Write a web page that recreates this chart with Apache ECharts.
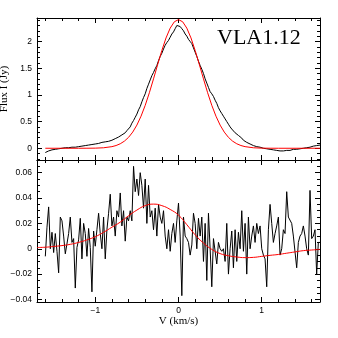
<!DOCTYPE html>
<html>
<head>
<meta charset="utf-8">
<script src="https://cdn.jsdelivr.net/npm/echarts@6/dist/echarts.min.js"></script>
<style>
  html, body { margin: 0; padding: 0; background: #fff; }
  #chart { width: 338px; height: 338px; }
</style>
</head>
<body>
<div id="chart"></div>
<script>
// channel velocities (km/s) of the observed spectra
const velocity = [
  -1.60,-1.58,-1.56,-1.54,-1.52,-1.50,-1.48,-1.46,-1.44,-1.42,
  -1.40,-1.38,-1.36,-1.34,-1.32,-1.30,-1.28,-1.26,-1.24,-1.22,
  -1.20,-1.18,-1.16,-1.14,-1.12,-1.10,-1.08,-1.06,-1.04,-1.02,
  -1.00,-0.98,-0.96,-0.94,-0.92,-0.90,-0.88,-0.86,-0.84,-0.82,
  -0.80,-0.78,-0.76,-0.74,-0.72,-0.70,-0.68,-0.66,-0.64,-0.62,
  -0.60,-0.58,-0.56,-0.54,-0.52,-0.50,-0.48,-0.46,-0.44,-0.42,
  -0.40,-0.38,-0.36,-0.34,-0.32,-0.30,-0.28,-0.26,-0.24,-0.22,
  -0.20,-0.18,-0.16,-0.14,-0.12,-0.10,-0.08,-0.06,-0.04,-0.02,
  0.00,0.02,0.04,0.06,0.08,0.10,0.12,0.14,0.16,0.18,
  0.20,0.22,0.24,0.26,0.28,0.30,0.32,0.34,0.36,0.38,
  0.40,0.42,0.44,0.46,0.48,0.50,0.52,0.54,0.56,0.58,
  0.60,0.62,0.64,0.66,0.68,0.70,0.72,0.74,0.76,0.78,
  0.80,0.82,0.84,0.86,0.88,0.90,0.92,0.94,0.96,0.98,
  1.00,1.02,1.04,1.06,1.08,1.10,1.12,1.14,1.16,1.18,
  1.20,1.22,1.24,1.26,1.28,1.30,1.32,1.34,1.36,1.38,
  1.40,1.42,1.44,1.46,1.48,1.50,1.52,1.54,1.56,1.58,
  1.60,1.62,1.64,1.66,1.68,1.70
];

// Stokes I (Jy)
const fluxI = [
  -0.08,-0.07,-0.05,-0.06,-0.03,-0.04,-0.02,-0.03,-0.01,-0.02,
  0.00,-0.01,0.01,0.00,0.01,0.00,0.02,0.01,0.02,0.02,
  0.03,0.02,0.04,0.03,0.05,0.04,0.06,0.05,0.07,0.06,
  0.08,0.07,0.09,0.09,0.11,0.10,0.12,0.13,0.13,0.15,
  0.15,0.17,0.18,0.18,0.21,0.22,0.25,0.27,0.29,0.33,
  0.36,0.40,0.47,0.52,0.58,0.64,0.72,0.78,0.87,0.95,
  1.02,1.12,1.20,1.28,1.36,1.42,1.49,1.55,1.64,1.72,
  1.78,1.86,1.93,1.98,2.02,2.08,2.14,2.18,2.24,2.30,
  2.31,2.28,2.24,2.20,2.14,2.10,2.04,2.00,1.96,1.88,
  1.80,1.72,1.63,1.55,1.48,1.40,1.30,1.22,1.14,1.06,
  1.02,0.97,0.90,0.84,0.76,0.70,0.65,0.60,0.55,0.50,
  0.45,0.40,0.36,0.33,0.29,0.26,0.24,0.21,0.19,0.15,
  0.14,0.11,0.10,0.08,0.07,0.05,0.05,0.03,0.04,0.02,
  0.02,0.00,0.01,-0.01,0.00,-0.02,-0.01,-0.03,-0.02,-0.04,
  -0.03,-0.05,-0.04,-0.05,-0.03,-0.04,-0.02,-0.04,-0.03,-0.02,
  -0.04,-0.02,-0.03,-0.01,-0.02,0.00,-0.01,0.01,0.00,0.02,
  0.03,0.04,0.06,0.05,0.07,0.06
];

// Stokes V (Jy)
const fluxV = [
  -0.006,0.017,0.033,0.000,0.013,-0.003,0.012,-0.002,-0.019,0.025,
  0.022,0.010,-0.004,-0.004,0.012,0.025,0.005,0.008,-0.031,0.001,
  0.007,0.024,-0.008,0.020,0.012,-0.006,0.016,0.001,-0.034,0.014,
  0.002,0.015,0.028,0.012,0.000,0.025,-0.008,0.015,0.028,0.043,
  0.018,0.025,0.010,0.030,0.025,0.044,0.018,0.030,0.006,0.025,
  0.022,0.030,0.022,0.065,0.045,0.055,0.042,0.060,0.050,0.032,
  0.055,0.020,0.050,0.025,0.030,0.015,0.032,0.010,0.035,0.025,
  0.020,0.030,0.010,0.000,0.015,-0.002,0.012,0.020,0.005,0.022,
  0.036,0.010,-0.037,0.025,0.010,0.008,0.005,-0.005,0.003,0.028,
  0.020,0.000,0.024,0.010,0.025,-0.010,0.020,-0.025,0.028,0.000,
  -0.030,0.008,0.007,-0.012,0.005,0.000,-0.002,0.000,-0.010,0.020,
  -0.020,0.000,0.014,-0.015,0.015,-0.010,0.013,0.000,0.030,-0.002,
  0.020,-0.020,0.025,0.000,0.010,0.018,0.005,0.020,0.012,0.018,
  0.000,-0.005,-0.008,-0.030,0.015,0.035,0.020,0.005,0.012,0.018,
  0.025,-0.005,0.000,0.015,0.012,0.045,0.025,0.025,0.020,0.010,
  0.010,-0.015,0.005,0.010,0.012,0.018,0.010,0.000,-0.005,0.046,
  0.008,0.010,0.015,-0.020,0.005,0.005
];

// model fits (red)
const fitIVel = [
  -1.6,-1.4,-1.2,-1.1,-1.0,-0.9,-0.8,-0.75,-0.7,-0.65,-0.6,-0.55,-0.5,-0.45,-0.4,
  -0.35,-0.3,-0.25,-0.2,-0.15,-0.1,-0.05,0,0.05,0.1,0.15,0.2,0.25,0.3,0.35,
  0.4,0.45,0.5,0.55,0.6,0.65,0.7,0.75,0.8,0.9,1.0,1.1,1.2,1.4,1.7
];
const fitI = [
  0,0,0,0.0005,0.002,0.009,0.030,0.051,0.084,0.133,0.204,0.303,0.434,0.601,0.804,
  1.040,1.300,1.570,1.832,2.066,2.250,2.369,2.410,2.369,2.250,2.066,1.832,1.570,1.300,1.040,
  0.804,0.601,0.434,0.303,0.204,0.133,0.084,0.051,0.030,0.009,0.002,0.0005,0,0,0
];
const fitVVel = [
  -1.7,-1.6,-1.5,-1.4,-1.3,-1.2,-1.1,-1.0,-0.9,-0.8,-0.7,-0.6,-0.5,-0.4,-0.3,-0.2,-0.1,
  0.0,0.1,0.2,0.3,0.4,0.5,0.6,0.7,0.8,0.9,1.0,1.1,1.2,1.3,1.4,1.5,1.6,1.7
];
const fitV = [
  0.0010,0.0012,0.0018,0.0025,0.0035,0.0050,0.0070,0.0095,0.0130,0.0170,0.0210,0.0260,0.0305,0.0340,0.0352,0.0340,0.0310,
  0.0265,0.0190,0.0110,0.0045,-0.0005,-0.0038,-0.0055,-0.0065,-0.0070,-0.0068,-0.0060,-0.0052,-0.0045,-0.0035,-0.0025,-0.0015,-0.0010,-0.0005
];

// ticks
const velMajor = [-1, 0, 1];
const velMinor = [-1.6,-1.4,-1.2,-0.8,-0.6,-0.4,-0.2,0.2,0.4,0.6,0.8,1.2,1.4,1.6];
const iMajor = [0, 0.5, 1, 1.5, 2];
const iMinor = [-0.2,-0.1,0.1,0.2,0.3,0.4,0.6,0.7,0.8,0.9,1.1,1.2,1.3,1.4,1.6,1.7,1.8,1.9,2.1,2.2,2.3,2.4];
const vMajor = [-0.04, -0.02, 0, 0.02, 0.04, 0.06];
const vMinor = [-0.035,-0.03,-0.025,-0.015,-0.01,-0.005,0.005,0.01,0.015,0.025,0.03,0.035,0.045,0.05,0.055,0.065];

const pairs = (xs, ys) => xs.map((x, i) => [x, ys[i]]);
const fmt = (v) => String(v).replace('-', '\u2212');

const labelFont = { fontFamily: 'Liberation Sans', fontSize: 8.5, color: '#000' };
const nameFont = { fontFamily: 'Liberation Serif', fontSize: 11, color: '#000' };

function axis(kind, grid, pos, min, max, ticks, len, opts) {
  const a = {
    type: 'value',
    gridIndex: grid,
    position: pos,
    min: min,
    max: max,
    axisLine: { show: !!(opts && opts.line), onZero: false, lineStyle: { color: '#000', width: 1 } },
    axisTick: { show: true, inside: true, length: len, customValues: ticks, lineStyle: { color: '#000', width: 1 } },
    axisLabel: { show: false },
    splitLine: { show: false }
  };
  if (opts && opts.labels) {
    a.axisLabel = Object.assign({ show: true, customValues: opts.labels, formatter: fmt, margin: kind === 'x' ? 4 : 5 }, labelFont);
  }
  if (opts && opts.name) {
    a.name = opts.name;
    a.nameLocation = 'middle';
    a.nameGap = opts.nameGap;
    a.nameTextStyle = nameFont;
  }
  return a;
}

const chart = echarts.init(document.getElementById('chart'));

const xAxes = [];
const yAxes = [];
// top panel
xAxes.push(axis('x', 0, 'bottom', -1.7, 1.7, velMajor, 5, { line: true }));
xAxes.push(axis('x', 0, 'bottom', -1.7, 1.7, velMinor, 3));
xAxes.push(axis('x', 0, 'top', -1.7, 1.7, velMajor, 5, { line: true }));
xAxes.push(axis('x', 0, 'top', -1.7, 1.7, velMinor, 3));
yAxes.push(axis('y', 0, 'left', -0.22, 2.44, iMajor, 5, { line: true, labels: iMajor, name: 'Flux I (Jy)', nameGap: 20 }));
yAxes.push(axis('y', 0, 'left', -0.22, 2.44, iMinor, 3));
yAxes.push(axis('y', 0, 'right', -0.22, 2.44, iMajor, 5, { line: true }));
yAxes.push(axis('y', 0, 'right', -0.22, 2.44, iMinor, 3));
// bottom panel
xAxes.push(axis('x', 1, 'bottom', -1.7, 1.7, velMajor, 5, { line: true, labels: velMajor, name: 'V (km/s)', nameGap: 13 }));
xAxes.push(axis('x', 1, 'bottom', -1.7, 1.7, velMinor, 3));
xAxes.push(axis('x', 1, 'top', -1.7, 1.7, velMajor, 5, { line: true }));
xAxes.push(axis('x', 1, 'top', -1.7, 1.7, velMinor, 3));
yAxes.push(axis('y', 1, 'left', -0.042, 0.07, vMajor, 5, { line: true, labels: vMajor, name: 'Flux V (Jy)', nameGap: 25 }));
yAxes.push(axis('y', 1, 'left', -0.042, 0.07, vMinor, 3));
yAxes.push(axis('y', 1, 'right', -0.042, 0.07, vMajor, 5, { line: true }));
yAxes.push(axis('y', 1, 'right', -0.042, 0.07, vMinor, 3));

const lineSeries = (data, xi, yi, color, smooth) => ({
  type: 'line',
  xAxisIndex: xi,
  yAxisIndex: yi,
  data: data,
  showSymbol: false,
  smooth: smooth,
  lineStyle: { color: color, width: 1 },
  itemStyle: { color: color }
});

chart.setOption({
  animation: false,
  backgroundColor: '#fff',
  grid: [
    { left: 37, top: 18, width: 283, height: 142, outerBoundsMode: 'none' },
    { left: 37, top: 160, width: 283, height: 142, outerBoundsMode: 'none' }
  ],
  xAxis: xAxes,
  yAxis: yAxes,
  graphic: [{
    type: 'text',
    left: 217,
    top: 27,
    style: { text: 'VLA1.12', fontFamily: 'Liberation Serif', fontSize: 22, fill: '#000' }
  }],
  series: [
    lineSeries(pairs(velocity, fluxI), 0, 0, '#000', false),
    lineSeries(pairs(fitIVel, fitI), 0, 0, '#ff0000', false),
    lineSeries(pairs(velocity, fluxV), 4, 4, '#000', false),
    lineSeries(pairs(fitVVel, fitV), 4, 4, '#ff0000', true)
  ]
});

window.addEventListener('resize', () => chart.resize());
</script>
</body>
</html>
